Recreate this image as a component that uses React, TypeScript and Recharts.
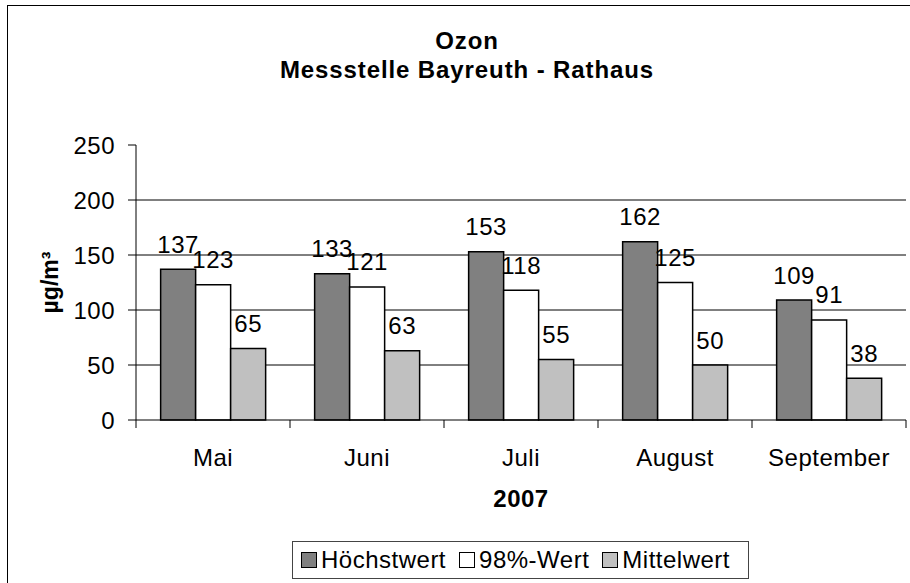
import { Bar, BarChart, CartesianGrid, LabelList, Label, XAxis, YAxis } from "recharts";

const MONTHS = ["Mai", "Juni", "Juli", "August", "September"];
const HOECHSTWERT = [137, 133, 153, 162, 109];
const WERT_98 = [123, 121, 118, 125, 91];
const MITTELWERT = [65, 63, 55, 50, 38];
const Y_TICKS = [0, 50, 100, 150, 200, 250];
const GRID_VALUES = [50, 100, 150, 200];

const SERIES = [
  { key: "hoechst", name: "Höchstwert", color: "#808080" },
  { key: "p98", name: "98%-Wert", color: "#FFFFFF" },
  { key: "mittel", name: "Mittelwert", color: "#C0C0C0" },
];

const data = MONTHS.map((month, i) => ({
  month,
  hoechst: HOECHSTWERT[i],
  p98: WERT_98[i],
  mittel: MITTELWERT[i],
}));

const FONT = '"Liberation Sans", Arial, sans-serif';
const PLOT_W = 770;
const BAND = PLOT_W / MONTHS.length;
const Y_MAX = Y_TICKS[Y_TICKS.length - 1];

const MonthTick = (props: any) => {
  const { x, y, payload, index } = props;
  return (
    <g>
      <line x1={x - BAND / 2} x2={x - BAND / 2} y1={y} y2={y + 8} stroke="#000" />
      {index === MONTHS.length - 1 && (
        <line x1={x + BAND / 2} x2={x + BAND / 2} y1={y} y2={y + 8} stroke="#000" />
      )}
      <text
        x={x}
        y={y + 37}
        dy="0.355em"
        textAnchor="middle"
        fontSize={24}
        letterSpacing={0.5}
        fill="#000"
        fontFamily={FONT}
      >
        {payload.value}
      </text>
    </g>
  );
};

const ValueLabel = (props: any) => {
  const { x, y, width, value } = props;
  return (
    <text
      x={x + width / 2}
      y={y - 25}
      dy="0.355em"
      textAnchor="middle"
      fontSize={24}
      letterSpacing={0.5}
      fill="#000"
      fontFamily={FONT}
    >
      {value}
    </text>
  );
};

// gridlines only at 50..200 (no line at the top tick)
const gridRows = ({ yAxis, offset }: any) =>
  GRID_VALUES.map((v) =>
    yAxis && typeof yAxis.scale === "function"
      ? yAxis.scale(v)
      : offset.top + offset.height * (1 - v / Y_MAX)
  );

const titleStyle: any = {
  position: "absolute",
  left: 0,
  width: 934,
  textAlign: "center",
  fontWeight: "bold",
  fontSize: 24,
  lineHeight: "24px",
  letterSpacing: 0.9,
};

export default function App() {
  return (
    <div
      style={{
        position: "fixed",
        left: 0,
        top: 0,
        width: 910,
        height: 583,
        overflow: "hidden",
        background: "#fff",
        fontFamily: FONT,
      }}
    >
      {/* chart area frame, right and bottom edges are outside the picture */}
      <div
        style={{
          position: "absolute",
          left: 7,
          top: 5,
          width: 1000,
          height: 1000,
          borderLeft: "1.5px solid #000",
          borderTop: "1.5px solid #000",
        }}
      />
      <div style={{ ...titleStyle, top: 29 }}>Ozon</div>
      <div style={{ ...titleStyle, top: 58 }}>Messstelle Bayreuth - Rathaus</div>
      <div style={{ position: "absolute", left: 0, top: 0 }}>
        <BarChart
          width={910}
          height={583}
          data={data}
          margin={{ top: 145, right: 4, bottom: 0, left: 0 }}
          barCategoryGap="16%"
          barGap={0}
        >
          <CartesianGrid
            vertical={false}
            stroke="#000"
            horizontalCoordinatesGenerator={gridRows}
          />
          <XAxis
            dataKey="month"
            height={163}
            axisLine={{ stroke: "#000" }}
            tickLine={false}
            tickSize={0}
            tickMargin={0}
            interval={0}
            tick={<MonthTick />}
          >
            <Label
              content={({ viewBox }: any) => (
                <text
                  x={viewBox.x + viewBox.width / 2}
                  y={viewBox.y + 78}
                  dy="0.355em"
                  textAnchor="middle"
                  fontSize={24}
                  fontWeight="bold"
                  letterSpacing={0.5}
                  fill="#000"
                  fontFamily={FONT}
                >
                  2007
                </text>
              )}
            />
          </XAxis>
          <YAxis
            width={136}
            domain={[0, Y_MAX]}
            ticks={Y_TICKS}
            interval={0}
            axisLine={{ stroke: "#000" }}
            tickLine={{ stroke: "#000" }}
            tickSize={8}
            tickMargin={13}
            tick={{ fontSize: 24, fill: "#000", fontFamily: FONT, letterSpacing: 0.5 }}
          >
            <Label
              content={({ viewBox }: any) => {
                const cx = viewBox.x + 50;
                const cy = viewBox.y + viewBox.height / 2;
                return (
                  <text
                    x={cx}
                    y={cy}
                    dy="0.355em"
                    textAnchor="middle"
                    fontSize={23}
                    fontWeight="bold"
                    fill="#000"
                    fontFamily={FONT}
                    transform={`rotate(-90 ${cx} ${cy})`}
                  >
                    µg/m³
                  </text>
                );
              }}
            />
          </YAxis>
          {SERIES.map((s) => (
            <Bar
              key={s.key}
              dataKey={s.key}
              name={s.name}
              fill={s.color}
              stroke="#000"
              strokeWidth={1.5}
              isAnimationActive={false}
            >
              <LabelList dataKey={s.key} content={<ValueLabel />} />
            </Bar>
          ))}
        </BarChart>
      </div>
      <div
        style={{
          position: "absolute",
          left: 292,
          top: 541,
          width: 457,
          height: 38,
          boxSizing: "border-box",
          border: "1px solid #444",
          display: "flex",
          alignItems: "center",
          paddingLeft: 8,
          fontSize: 24,
          letterSpacing: 0.5,
          background: "#fff",
        }}
      >
        {SERIES.map((s) => (
          <div key={s.key} style={{ display: "flex", alignItems: "center", marginRight: 13 }}>
            <span
              style={{
                display: "inline-block",
                width: 16,
                height: 16,
                boxSizing: "border-box",
                border: "1.5px solid #000",
                background: s.color,
                marginRight: 4,
              }}
            />
            <span style={{ lineHeight: "24px" }}>{s.name}</span>
          </div>
        ))}
      </div>
    </div>
  );
}
